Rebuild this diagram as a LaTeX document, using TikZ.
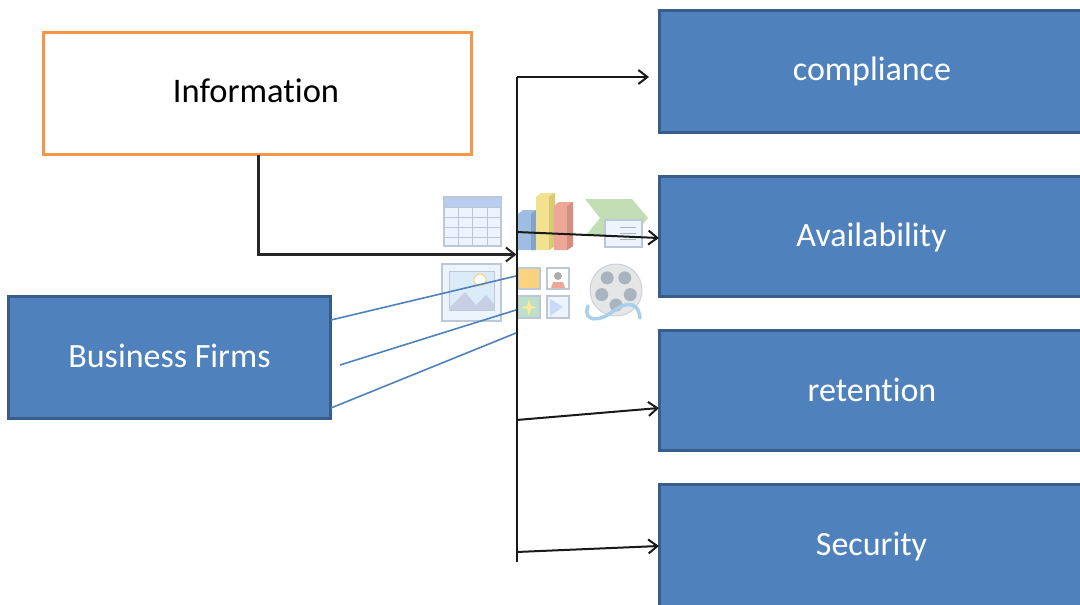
\documentclass[tikz,border=0pt]{standalone}
\usepackage{fontspec}
\setmainfont[RawFeature={-liga}]{Carlito}
\usetikzlibrary{arrows.meta}
\definecolor{bfill}{HTML}{4F81BD}
\definecolor{bline}{HTML}{385D8A}
\definecolor{oline}{HTML}{F79646}
\definecolor{ifr}{HTML}{BCC8D8}
\definecolor{ipale}{HTML}{EEF4FD}
\definecolor{picsky}{HTML}{DCEBFA}
\definecolor{thead}{HTML}{B9CDF2}
\definecolor{barB}{HTML}{9FBDE3}
\definecolor{barBs}{HTML}{85A3C8}
\definecolor{barY}{HTML}{F2E28F}
\definecolor{barYs}{HTML}{D9C874}
\definecolor{barR}{HTML}{EDA797}
\definecolor{barRs}{HTML}{D48F80}
\definecolor{chev}{HTML}{C3DDB4}
\definecolor{reel}{HTML}{E4E6E8}
\definecolor{reelh}{HTML}{A9B4BF}
\definecolor{ribbon}{HTML}{A8D0EC}
\definecolor{mount}{HTML}{C6CFE4}
\definecolor{tileO}{HTML}{FBD27E}
\definecolor{tileG}{HTML}{BFE0C8}
\definecolor{starY}{HTML}{F7EB9A}
\definecolor{tileB}{HTML}{C9DAF8}
\tikzset{
  x=1pt,y=-1pt,
  bluebox/.style={draw=bline,line width=3pt,fill=bfill,anchor=north west,inner sep=0pt},
  infobox/.style={draw=oline,line width=3pt,fill=white,anchor=north west,inner sep=0pt},
  bluetext/.style={text=white,font=\fontsize{34}{40}\selectfont},
  arrowline/.style={draw=black!90,line width=2pt,-{Straight Barb[length=9pt,width=14pt,line width=2pt]}},
  thickarrow/.style={draw=black!85,line width=2.4pt,-{Straight Barb[length=9pt,width=14pt,line width=2pt]}},
  plainline/.style={draw=black!90,line width=2pt},
  feed/.style={draw=bfill,line width=1.6pt},
  iconframe/.style={draw=ifr,line width=1.3pt,fill=ipale},
}
\begin{document}
\begin{tikzpicture}
\useasboundingbox (0,0) rectangle (1080,605);
\clip (0,0) rectangle (1080,605);
% table icon
\draw[iconframe,fill=ipale] (444,197) rectangle (501,246);
\fill[draw=ifr,fill=thead] (444,197) rectangle (501,207);
\foreach \x in {458,472,487} \draw[ifr,line width=.9pt] (\x,207) -- (\x,246);
\foreach \y in {217,227,237} \draw[ifr,line width=.9pt] (444,\y) -- (501,\y);
% bars
\fill[barB] (518,214) -- (523,210) -- (536,210) -- (536,250) -- (518,250) -- cycle;
\fill[barBs] (531,214) -- (536,210) -- (536,250) -- (531,250) -- cycle;
\fill[barY] (536,197) -- (541,193) -- (555,193) -- (555,246) -- (549,250) -- (536,250) -- cycle;
\fill[barYs] (549,197) -- (555,193) -- (555,246) -- (549,250) -- cycle;
\fill[barR] (554,206) -- (559,202) -- (573,202) -- (573,246) -- (567,250) -- (554,250) -- cycle;
\fill[barRs] (567,206) -- (573,202) -- (573,246) -- (567,250) -- cycle;
% chevron
\fill[chev] (585,199) -- (632,199) -- (648,218) -- (632,238) -- (587,234) -- (600,218) -- cycle;
\draw[iconframe,fill=ipale] (605,220) rectangle (642,247);
\foreach \y in {227,233,239} \draw[reelh,line width=1pt] (620,\y) -- (636,\y);
% picture icon
\draw[iconframe] (442,264) rectangle (501,321);
\draw[draw=ifr,fill=picsky,line width=1pt] (449,271) rectangle (494,310);
\fill[mount] (449,308) -- (465,292) -- (476,305) -- (486,295) -- (494,304) -- (494,310) -- (449,310) -- cycle;
\draw[tileO,fill=white,line width=1pt] (480,280) circle (6pt);
% small tiles
\draw[iconframe,fill=tileO] (518,268) rectangle (540,289);
\draw[iconframe,fill=white] (547,268) rectangle (569,289);
\fill[gray!65] (558,276) circle (4pt);
\fill[barR] (551,288) -- (553,282) -- (563,282) -- (565,288) -- cycle;
\draw[iconframe,fill=tileG] (518,296) rectangle (540,318);
\fill[starY] (529,299) -- (531,306) -- (537,307) -- (531,309) -- (529,316) -- (527,309) -- (521,307) -- (527,306) -- cycle;
\draw[iconframe] (547,296) rectangle (569,318);
\fill[tileB] (550,299) -- (563,307) -- (550,316) -- cycle;
% film reel
\fill[reel,draw=reelh!60!white,line width=1pt] (616,290) circle (26pt);
\foreach \a in {0,72,144,216,288}
  \fill[reelh] (616,290) ++(\a+18:15) circle (6.5pt);
\draw[ribbon,line width=3.5pt,line cap=round] (588,306) .. controls (582,322) and (600,322) .. (612,312) .. controls (622,304) and (638,298) .. (640,318);
% boxes
\node[infobox,minimum width=428pt,minimum height=122pt] (info) at (42,31) {};
\node[font=\fontsize{34.5}{40}\selectfont] (infoT) at (256,91) {Information};
\node[bluebox,minimum width=322pt,minimum height=122pt] (firms) at (7,295) {};
\node[bluetext] (firmsT) at (169.5,356) {Business Firms};
\node[bluebox,minimum width=424pt,minimum height=122pt] (comp) at (658,9) {};
\node[bluetext] (compT) at (872,71.5) {compliance};
\node[bluebox,minimum width=424pt,minimum height=120pt] (avail) at (658,175) {};
\node[bluetext] (availT) at (871.5,237.5) {Availability};
\node[bluebox,minimum width=424pt,minimum height=120pt] (ret) at (658,329) {};
\node[bluetext] (retT) at (872,390) {retention};
\node[bluebox,minimum width=424pt,minimum height=122pt] (sec) at (658,483) {};
\node[bluetext] (secT) at (871.5,546.5) {Security};
% connectors
\coordinate (top) at (516.5,77);
\coordinate (bot) at (516.5,562);
\coordinate (busIn) at (516.5,254.5);
\coordinate (a1) at (516.5,232);
\coordinate (a2) at (516.5,420);
\coordinate (a3) at (516.5,552);
\coordinate (tA) at (649,77);
\coordinate (tB) at (659,238);
\coordinate (tC) at (659,408);
\coordinate (tD) at (659,546);
\coordinate (iOut) at (258.5,155);
\draw[plainline] (bot) -- (top);
\draw[arrowline] (top) -- (tA);
\draw[arrowline] (a1) -- (tB);
\draw[arrowline] (a2) -- (tC);
\draw[arrowline] (a3) -- (tD);
\draw[thickarrow] (iOut) |- (busIn);
\coordinate (f1a) at (331,320);
\coordinate (f1b) at (516,276);
\coordinate (f2a) at (340,365);
\coordinate (f2b) at (516,310);
\coordinate (f3a) at (331,408);
\coordinate (f3b) at (516,333);
\draw[feed] (f1a) -- (f1b);
\draw[feed] (f2a) -- (f2b);
\draw[feed] (f3a) -- (f3b);
\end{tikzpicture}
\end{document}
